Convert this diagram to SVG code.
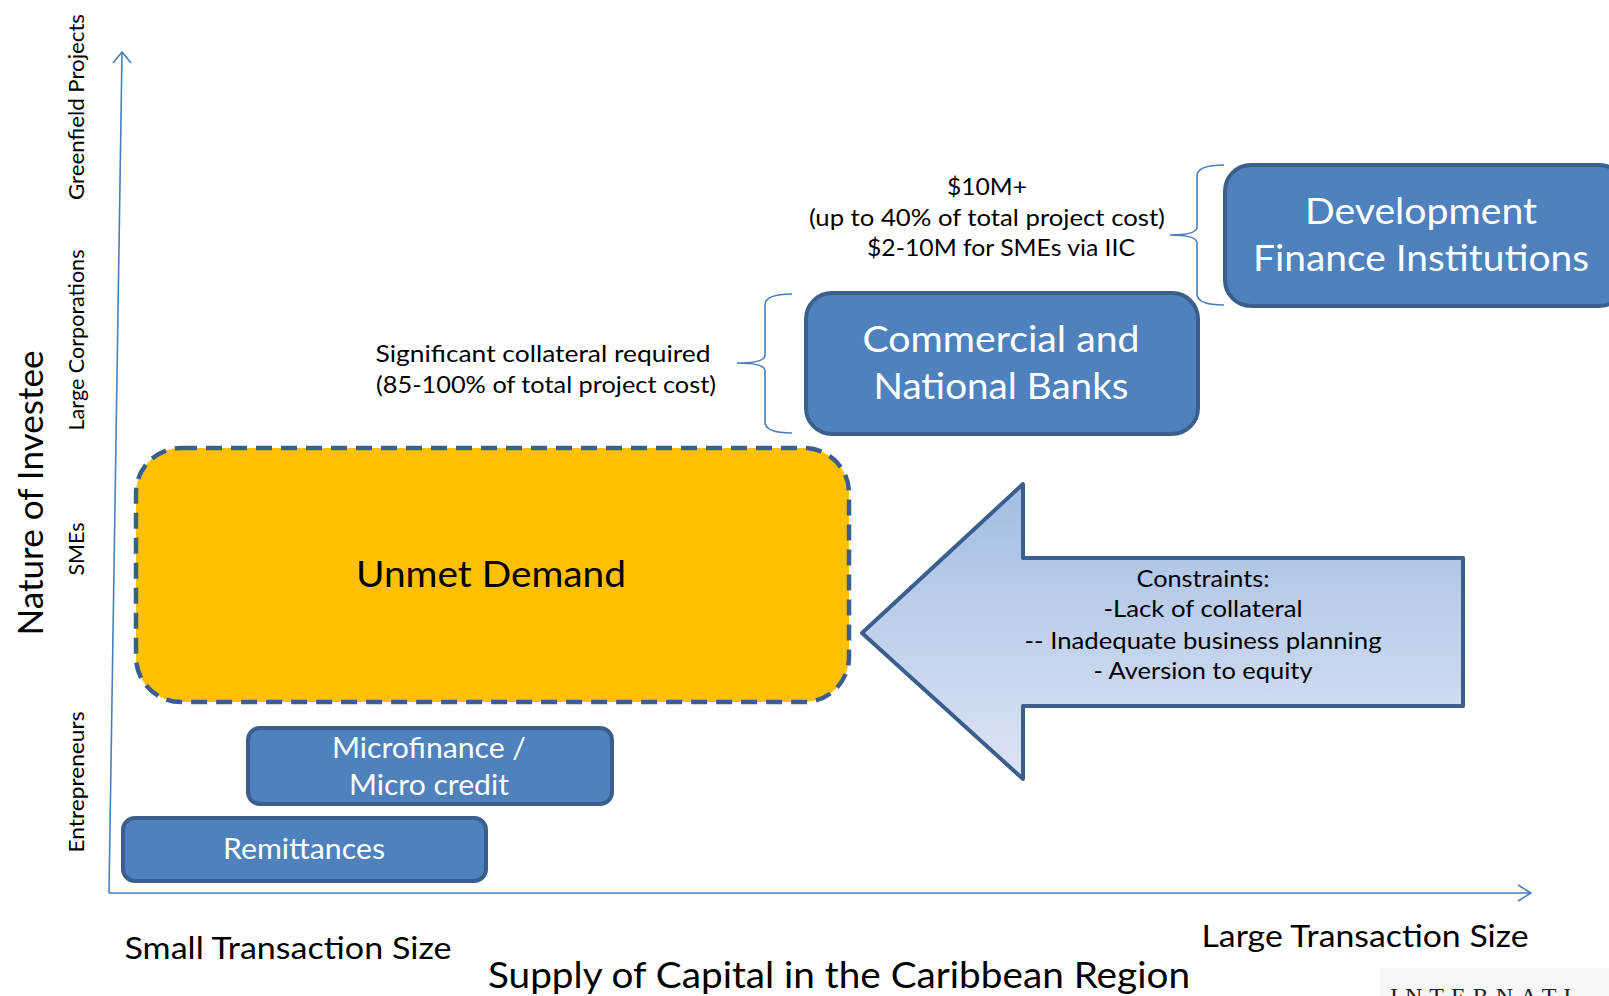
<svg xmlns="http://www.w3.org/2000/svg" width="1609" height="996" viewBox="0 0 1609 996">
<style>
.box{fill:#4F81BD;stroke:#3A5F8C;stroke-width:4}
.bt{font-family:Lato,"Open Sans",sans-serif;fill:#fff;text-anchor:middle}
.t{font-family:Lato,"Open Sans",sans-serif;fill:#000;text-anchor:middle}
.ax{fill:none;stroke:#4A7EBB;stroke-width:1.6}
</style>
<defs>
<linearGradient id="ag" x1="0" y1="0" x2="0" y2="1">
<stop offset="0" stop-color="#A3BCE3"/>
<stop offset="1" stop-color="#DDE5F4"/>
</linearGradient>
</defs>
<rect width="1609" height="996" fill="#fff"/>
<g id="connectors">
<path class="ax" d="M109,893 L122,53 M113,63 L122,52 L131,63"/>
<path class="ax" d="M109,893 L1530,893 M1518,885 L1531,893 L1518,901"/>
<path class="ax" d="M792,294 Q765,294 765,305 L765,355 Q765,363 737,363 Q765,363 765,371 L765,422 Q765,433 792,433"/>
<path class="ax" d="M1224,165 Q1197,165 1197,176 L1197,227 Q1197,235 1170,235 Q1197,235 1197,243 L1197,294 Q1197,305 1224,305"/>
</g>
<g id="axis-labels">
<text class="t" font-size="21" textLength="186" lengthAdjust="spacingAndGlyphs" transform="translate(84,107) rotate(-90)">Greenfield Projects</text>
<text class="t" font-size="21" textLength="181" lengthAdjust="spacingAndGlyphs" transform="translate(84,340) rotate(-90)">Large Corporations</text>
<text class="t" font-size="21" textLength="53" lengthAdjust="spacingAndGlyphs" transform="translate(84,549) rotate(-90)">SMEs</text>
<text class="t" font-size="21" textLength="141" lengthAdjust="spacingAndGlyphs" transform="translate(84,782) rotate(-90)">Entrepreneurs</text>
<text class="t" font-size="35" textLength="285" lengthAdjust="spacingAndGlyphs" transform="translate(43,493) rotate(-90)">Nature of Investee</text>
<text class="t" font-size="30" textLength="327" lengthAdjust="spacingAndGlyphs" x="288" y="959">Small Transaction  Size</text>
<text class="t" font-size="30" textLength="327" lengthAdjust="spacingAndGlyphs" x="1365" y="947">Large Transaction Size</text>
<text class="t" font-size="36" textLength="702" lengthAdjust="spacingAndGlyphs" x="839" y="988">Supply of Capital in the Caribbean Region</text>
</g>
<g id="unmet-demand">
<rect x="136" y="448" width="713" height="254" rx="45" fill="#FFC000" stroke="#3A5F8C" stroke-width="4.5" stroke-dasharray="16 9"/>
<text class="t" font-size="36" textLength="270" lengthAdjust="spacingAndGlyphs" x="491" y="587">Unmet Demand</text>
</g>
<g id="microfinance">
<rect class="box" x="248" y="728" width="364" height="76" rx="12"/>
<text class="bt" font-size="28" textLength="194" lengthAdjust="spacingAndGlyphs" x="429" y="758">Microfinance /</text>
<text class="bt" font-size="28" textLength="160" lengthAdjust="spacingAndGlyphs" x="429" y="795">Micro credit</text>
</g>
<g id="remittances">
<rect class="box" x="123" y="818" width="363" height="63" rx="12"/>
<text class="bt" font-size="28" textLength="162" lengthAdjust="spacingAndGlyphs" x="304" y="859">Remittances</text>
</g>
<g id="commercial-banks">
<rect class="box" x="806" y="293" width="392" height="141" rx="26"/>
<text class="bt" font-size="36" textLength="277" lengthAdjust="spacingAndGlyphs" x="1001" y="352">Commercial and</text>
<text class="bt" font-size="36" textLength="255" lengthAdjust="spacingAndGlyphs" x="1001" y="399">National Banks</text>
</g>
<g id="dfi">
<rect class="box" x="1225" y="165" width="400" height="141" rx="26"/>
<text class="bt" font-size="36" textLength="232" lengthAdjust="spacingAndGlyphs" x="1421" y="224">Development</text>
<text class="bt" font-size="36" textLength="336" lengthAdjust="spacingAndGlyphs" x="1421" y="271">Finance Institutions</text>
</g>
<g id="constraints">
<path d="M862,633 L1023,484 L1023,558 L1463,558 L1463,706 L1023,706 L1023,779 Z" fill="url(#ag)" stroke="#3A5F8C" stroke-width="4" stroke-linejoin="round"/>
<text class="t" font-size="23" textLength="133" lengthAdjust="spacingAndGlyphs" x="1203" y="587">Constraints:</text>
<text class="t" font-size="23" textLength="199" lengthAdjust="spacingAndGlyphs" x="1203" y="617">-Lack of collateral</text>
<text class="t" font-size="23" textLength="357" lengthAdjust="spacingAndGlyphs" x="1203" y="649">-- Inadequate business planning</text>
<text class="t" font-size="23" textLength="219" lengthAdjust="spacingAndGlyphs" x="1203" y="679">- Aversion to equity</text>
</g>
<g id="dfi-note">
<text class="t" font-size="23" textLength="80" lengthAdjust="spacingAndGlyphs" x="987" y="195">$10M+</text>
<text class="t" font-size="23" textLength="356" lengthAdjust="spacingAndGlyphs" x="987" y="226">(up to 40% of total project cost)</text>
<text class="t" font-size="23" textLength="268" lengthAdjust="spacingAndGlyphs" x="1001" y="256">$2-10M for SMEs via IIC</text>
</g>
<g id="bank-note">
<text class="t" font-size="23" textLength="335" lengthAdjust="spacingAndGlyphs" x="543" y="362">Significant collateral required</text>
<text class="t" font-size="23" textLength="340" lengthAdjust="spacingAndGlyphs" x="546" y="393">(85-100% of total project cost)</text>
</g>
<g id="logo">
<rect x="1380" y="968" width="229" height="28" fill="#F7F7F7"/>
<text x="1390" y="1004" font-family="Liberation Serif,serif" font-size="24" letter-spacing="7" fill="#222">INTERNATI</text>
</g>
</svg>
